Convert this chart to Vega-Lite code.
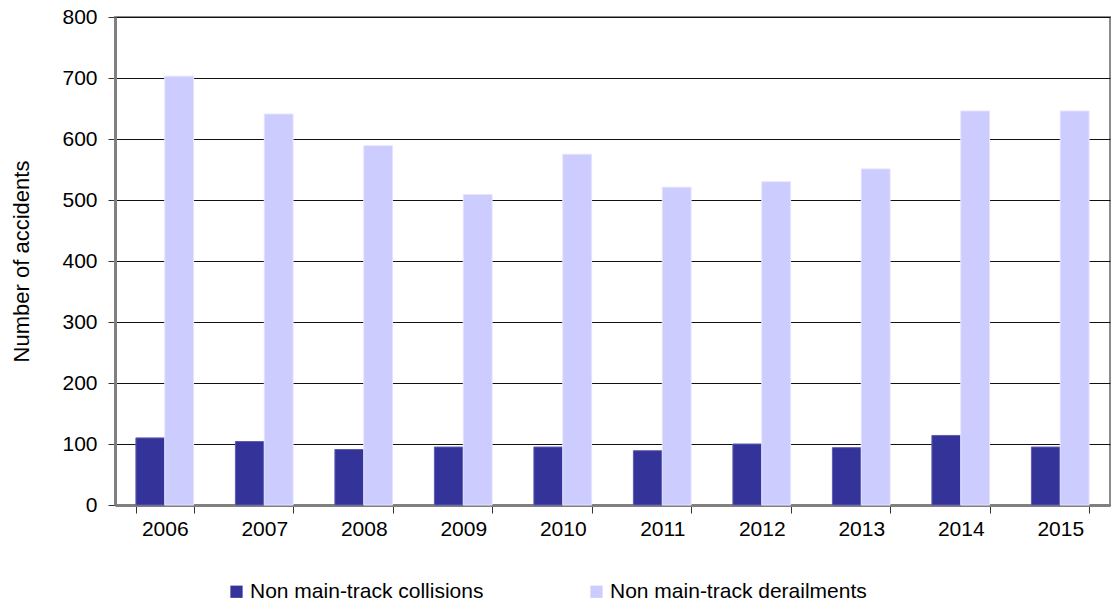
{
  "$schema": "https://vega.github.io/schema/vega-lite/v6.json",
  "autosize": {"type": "none"},
  "padding": {"left": 115, "top": 17, "right": 1, "bottom": 98},
  "width": 995,
  "height": 488,
  "background": "white",
  "config": {
    "font": "Liberation Sans",
    "view": {"stroke": "#8c8c8c", "strokeWidth": 2}
  },
  "data": {
    "values": [
      {"year": "2006", "type": "Non main-track collisions", "count": 110},
      {"year": "2006", "type": "Non main-track derailments", "count": 703},
      {"year": "2007", "type": "Non main-track collisions", "count": 104},
      {"year": "2007", "type": "Non main-track derailments", "count": 641},
      {"year": "2008", "type": "Non main-track collisions", "count": 91},
      {"year": "2008", "type": "Non main-track derailments", "count": 589},
      {"year": "2009", "type": "Non main-track collisions", "count": 95},
      {"year": "2009", "type": "Non main-track derailments", "count": 509},
      {"year": "2010", "type": "Non main-track collisions", "count": 95},
      {"year": "2010", "type": "Non main-track derailments", "count": 575},
      {"year": "2011", "type": "Non main-track collisions", "count": 89},
      {"year": "2011", "type": "Non main-track derailments", "count": 521},
      {"year": "2012", "type": "Non main-track collisions", "count": 100},
      {"year": "2012", "type": "Non main-track derailments", "count": 530},
      {"year": "2013", "type": "Non main-track collisions", "count": 94},
      {"year": "2013", "type": "Non main-track derailments", "count": 551},
      {"year": "2014", "type": "Non main-track collisions", "count": 114},
      {"year": "2014", "type": "Non main-track derailments", "count": 646},
      {"year": "2015", "type": "Non main-track collisions", "count": 95},
      {"year": "2015", "type": "Non main-track derailments", "count": 646}
    ]
  },
  "mark": {"type": "bar", "strokeWidth": 1},
  "encoding": {
    "x": {
      "field": "year",
      "type": "nominal",
      "scale": {"paddingInner": 0.42, "paddingOuter": 0.21},
      "axis": {
        "title": null,
        "labelAngle": 0,
        "labelFontSize": 21,
        "labelColor": "#000000",
        "labelPadding": 5,
        "tickBand": "extent",
        "tickSize": 8,
        "tickColor": "#333333",
        "domainColor": "#808080",
        "domainWidth": 3,
        "grid": false
      }
    },
    "xOffset": {"field": "type", "type": "nominal", "scale": {"paddingInner": 0, "paddingOuter": 0}},
    "y": {
      "field": "count",
      "type": "quantitative",
      "scale": {"domain": [0, 800], "nice": false},
      "axis": {
        "title": "Number of accidents",
        "titleFontSize": 22,
        "titleFontWeight": "normal",
        "titleColor": "#000000",
        "titlePadding": 28,
        "values": [0, 100, 200, 300, 400, 500, 600, 700, 800],
        "labelFontSize": 21,
        "labelColor": "#000000",
        "labelPadding": 11,
        "tickSize": 7,
        "tickColor": "#333333",
        "domainColor": "#808080",
        "domainWidth": 3,
        "grid": true,
        "gridColor": "#111111",
        "gridWidth": 1.2
      }
    },
    "color": {
      "field": "type",
      "type": "nominal",
      "scale": {
        "domain": ["Non main-track collisions", "Non main-track derailments"],
        "range": ["#333399", "#ccccff"]
      },
      "legend": {
        "title": null,
        "orient": "none",
        "legendX": 111,
        "legendY": 564,
        "direction": "horizontal",
        "columns": 2,
        "columnPadding": 102,
        "symbolType": "square",
        "symbolSize": 150,
        "symbolStrokeWidth": 0,
        "labelFontSize": 21,
        "labelColor": "#000000",
        "labelOffset": 3,
        "labelLimit": 400
      }
    },
    "stroke": {
      "field": "type",
      "type": "nominal",
      "scale": {
        "domain": ["Non main-track collisions", "Non main-track derailments"],
        "range": ["#5c5cb0", "#e4e4ff"]
      },
      "legend": null
    }
  }
}
